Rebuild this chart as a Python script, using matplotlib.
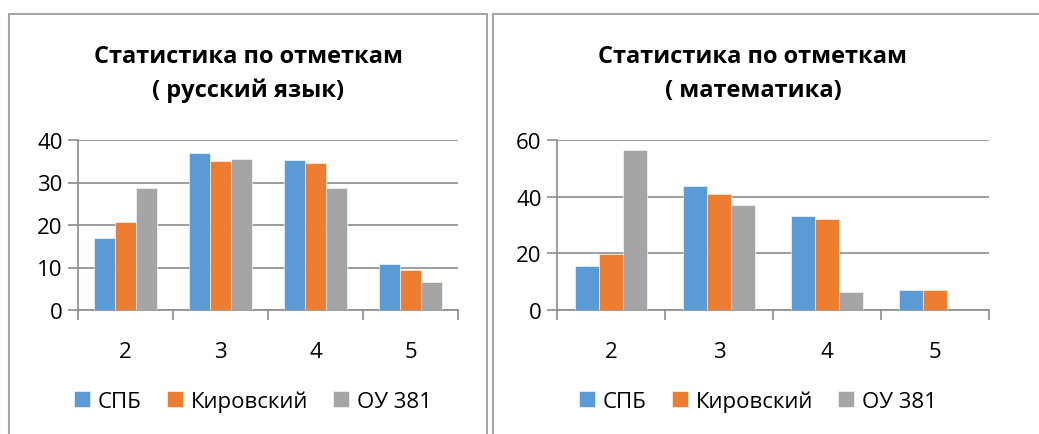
import matplotlib
matplotlib.use('Agg')
import matplotlib.pyplot as plt
from matplotlib.patches import Rectangle
import numpy as np

matplotlib.rcParams['font.family'] = ['Open Sans', 'DejaVu Sans']

# Data
grades = ['2', '3', '4', '5']
series_names = ['СПБ', 'Кировский', 'ОУ 381']
colors = ['#5B9BD5', '#ED7D31', '#A5A5A5']

russian_spb = [17.0, 36.9, 35.4, 10.8]
russian_kirov = [20.6, 35.1, 34.6, 9.5]
russian_ou = [28.8, 35.6, 28.8, 6.6]

math_spb = [15.6, 43.6, 33.3, 7.2]
math_kirov = [19.6, 41.0, 32.0, 7.1]
math_ou = [56.5, 36.9, 6.4, 0.0]

W, H = 1039, 435
fig = plt.figure(figsize=(W / 100, H / 100), dpi=100)
fig.patch.set_facecolor('white')

GRID = '#8C8C8C'
BOX = '#A6A6A6'


def px_axes(x0, y0, x1, y1):
    # pixel box (top-left origin) -> figure coords
    return fig.add_axes([x0 / W, 1 - y1 / H, (x1 - x0) / W, (y1 - y0) / H])


def draw_panel(ax, values, ymax, ystep, title, title_x, legend_x):
    x = np.arange(len(grades))
    bw = 0.22
    for i, (vals, name, c) in enumerate(zip(values, series_names, colors)):
        ax.bar(x + (i - 1) * bw, vals, width=bw, color=c, label=name,
               zorder=3, edgecolor='white', linewidth=0.4)
    ax.set_xlim(-0.5, len(grades) - 0.5)
    ax.set_ylim(0, ymax)
    ax.set_yticks(np.arange(0, ymax + 1, ystep))
    ax.yaxis.grid(True, color=GRID, linewidth=1.2, zorder=0)
    ax.set_axisbelow(True)
    for s in ['top', 'right']:
        ax.spines[s].set_visible(False)
    for s in ['left', 'bottom']:
        ax.spines[s].set_color(GRID)
        ax.spines[s].set_linewidth(1.2)
    ax.set_xticks(x)
    ax.set_xticklabels(grades)
    ax.set_xticks(np.arange(-0.5, len(grades)), minor=True)
    ax.tick_params(axis='x', which='major', length=0, pad=22, labelsize=16)
    ax.tick_params(axis='x', which='minor', length=7, width=1.2, color=GRID)
    ax.tick_params(axis='y', length=7, width=1.2, color=GRID, labelsize=16, pad=4)
    fig.text(title_x / W, 1 - 74 / H, title, ha='center', va='center',
             fontsize=17, fontweight='bold', linespacing=1.55)
    ax.legend(loc='center', bbox_to_anchor=(legend_x / W, 1 - 402 / H),
              bbox_transform=fig.transFigure, ncol=3, frameon=False,
              fontsize=16, handlelength=0.7, handleheight=0.7,
              handletextpad=0.35, columnspacing=1.15)


# panel frames
fig.patches.append(Rectangle((9 / W, -0.1), (487 - 9) / W, 1.1 - 15 / H,
                             transform=fig.transFigure, fill=False,
                             edgecolor=BOX, linewidth=1.5))
fig.patches.append(Rectangle((493 / W, -0.1), 1.2, 1.1 - 15 / H,
                             transform=fig.transFigure, fill=False,
                             edgecolor=BOX, linewidth=1.5))

ax1 = px_axes(78, 141, 458, 311)
draw_panel(ax1, [russian_spb, russian_kirov, russian_ou], 40, 10,
           'Статистика по отметкам\n( русский язык)', 248, 253)

ax2 = px_axes(557, 141, 989, 311)
draw_panel(ax2, [math_spb, math_kirov, math_ou], 60, 20,
           'Статистика по отметкам\n( математика)', 753, 758)

fig.savefig('out.png', dpi=100, facecolor='white')
